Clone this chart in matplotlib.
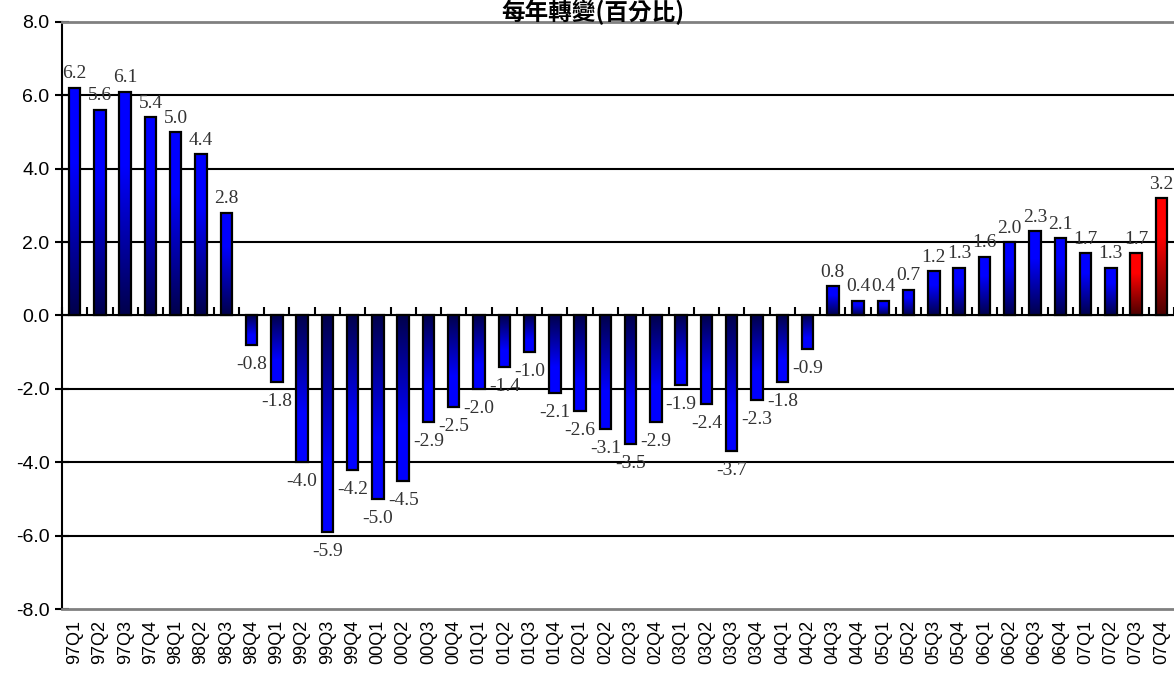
import numpy as np
import matplotlib; matplotlib.use("Agg")
import matplotlib.pyplot as plt

quarters = ["97Q1", "97Q2", "97Q3", "97Q4", "98Q1", "98Q2", "98Q3", "98Q4",
            "99Q1", "99Q2", "99Q3", "99Q4", "00Q1", "00Q2", "00Q3", "00Q4",
            "01Q1", "01Q2", "01Q3", "01Q4", "02Q1", "02Q2", "02Q3", "02Q4",
            "03Q1", "03Q2", "03Q3", "03Q4", "04Q1", "04Q2", "04Q3", "04Q4",
            "05Q1", "05Q2", "05Q3", "05Q4", "06Q1", "06Q2", "06Q3", "06Q4",
            "07Q1", "07Q2", "07Q3", "07Q4"]
change = [6.2, 5.6, 6.1, 5.4, 5.0, 4.4, 2.8, -0.8,
          -1.8, -4.0, -5.9, -4.2, -5.0, -4.5, -2.9, -2.5,
          -2.0, -1.4, -1.0, -2.1, -2.6, -3.1, -3.5, -2.9,
          -1.9, -2.4, -3.7, -2.3, -1.8, -0.9, 0.8, 0.4,
          0.4, 0.7, 1.2, 1.3, 1.6, 2.0, 2.3, 2.1,
          1.7, 1.3, 1.7, 3.2]
forecast = ["07Q3", "07Q4"]   # red bars
yticks = [-8, -6, -4, -2, 0, 2, 4, 6, 8]

W, H = 1174, 674
fig = plt.figure(figsize=(W / 100, H / 100), dpi=100)
ax = fig.add_axes([62 / W, (H - 609) / H, 1 - 62 / W, (609 - 22) / H])

# gridlines
for g in yticks[1:-1]:
    ax.axhline(g, color="black", lw=1.5, zorder=1)

bw = 0.45
t = np.linspace(0, 1, 64)
for i, (q, v) in enumerate(zip(quarters, change)):
    s = 0.3 + 0.7 * np.clip(t * 1.5, 0, 1)
    if q in forecast:
        grad = np.stack([s, np.zeros_like(s), np.zeros_like(s)], axis=-1)
    else:
        grad = np.stack([np.zeros_like(s), np.zeros_like(s), s], axis=-1)
    ax.imshow(grad[:, None, :], extent=[i - bw / 2, i + bw / 2, 0, v], origin="lower",
              aspect="auto", interpolation="bilinear", zorder=2)
    ax.bar(i, v, width=bw, facecolor="none", edgecolor="black", lw=1.6, zorder=3)
    ax.annotate(f"{v:.1f}", (i, v), xytext=(0, 4 if v > 0 else -8), textcoords="offset points",
                ha="center", va="bottom" if v > 0 else "top", fontsize=14,
                family="Liberation Serif", color="#333333", zorder=4)

ax.set_xlim(-0.5, len(quarters) - 0.5)
ax.set_ylim(-8, 8)
ax.set_yticks(yticks)
ax.set_yticklabels([f"{y:.1f}" for y in yticks], family="Liberation Sans", fontsize=14)
ax.tick_params(axis="y", direction="inout", length=10, width=1.5, pad=4)
ax.set_xticks(range(len(quarters)))
ax.set_xticklabels(quarters, rotation=90, family="Liberation Sans", fontsize=13)
ax.tick_params(axis="x", length=0, pad=8)

ax.spines["left"].set_linewidth(1.5)
for side in ("top", "bottom"):
    ax.spines[side].set_color("#808080")
    ax.spines[side].set_linewidth(2)
ax.spines["right"].set_visible(False)

# zero axis with category tick marks
zx = ax.secondary_xaxis(0.5)
zx.set_xticks(np.arange(-0.5, len(quarters), 1))
zx.tick_params(direction="out", length=6, width=1.5, labelbottom=False, labeltop=False)
zx.set_xticklabels([])
zx.spines["bottom"].set_linewidth(1.5)
zx.spines["bottom"].set_zorder(5)

fig.text(0.505, 1.0, "每年轉變(百分比)", ha="center", va="top", fontsize=17,
         fontweight="bold", family=["Noto Sans CJK TC", "DejaVu Sans"])

fig.savefig("out.png", dpi=100)
